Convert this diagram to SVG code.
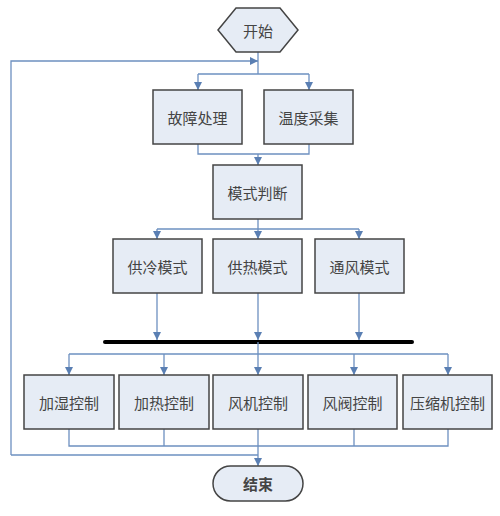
<svg xmlns="http://www.w3.org/2000/svg" width="500" height="516" viewBox="0 0 500 516">
<defs>
<marker id="a" viewBox="0 0 10 10" refX="10" refY="5" markerWidth="8" markerHeight="8" markerUnits="userSpaceOnUse" orient="auto"><path d="M0,0 L10,5 L0,10 z" fill="#5a7fb3"/></marker>
<style>
.n{fill:#e6ecf5;stroke:#444;stroke-width:1.5}
.t{font-family:"Noto Sans CJK SC",sans-serif;font-size:15px;fill:#444;text-anchor:middle;dominant-baseline:central}
.c{fill:none;stroke:#6d90c0;stroke-width:1.3}
</style>
</defs>
<rect width="500" height="516" fill="#fff"/>
<g id="connectors">
<path class="c" d="M258,52 V74"/>
<path class="c" d="M11,455 V61 H258" marker-end="url(#a)"/>
<path class="c" d="M198,74 H309"/>
<path class="c" d="M198,74 V90" marker-end="url(#a)"/>
<path class="c" d="M309,74 V90" marker-end="url(#a)"/>
<path class="c" d="M198,144 V154 H309 V144"/>
<path class="c" d="M258,154 V165" marker-end="url(#a)"/>
<path class="c" d="M258,219 V239" marker-end="url(#a)"/>
<path class="c" d="M157,229 H359"/>
<path class="c" d="M157,229 V239" marker-end="url(#a)"/>
<path class="c" d="M359,229 V239" marker-end="url(#a)"/>
<path class="c" d="M157,293 V340" marker-end="url(#a)"/>
<path class="c" d="M258,293 V340" marker-end="url(#a)"/>
<path class="c" d="M359,293 V340" marker-end="url(#a)"/>
<path d="M105,342 H412" stroke="#000" stroke-width="4" stroke-linecap="round"/>
<path class="c" d="M258,342 V375" marker-end="url(#a)"/>
<path class="c" d="M69,354 H448"/>
<path class="c" d="M69,354 V375" marker-end="url(#a)"/>
<path class="c" d="M164,354 V375" marker-end="url(#a)"/>
<path class="c" d="M354,354 V375" marker-end="url(#a)"/>
<path class="c" d="M448,354 V375" marker-end="url(#a)"/>
<path class="c" d="M69,429 V446 H448 V429"/>
<path class="c" d="M164,429 V446"/>
<path class="c" d="M354,429 V446"/>
<path class="c" d="M258,429 V466" marker-end="url(#a)"/>
<path class="c" d="M11,455 H258"/>
</g>
<g id="start"><polygon class="n" points="218,30 236,8 280,8 298,30 280,52 236,52"/><text class="t" x="258" y="30" font-size="16">开始</text></g>
<g id="fault"><rect class="n" x="153" y="90" width="89" height="54"/><text class="t" x="197.5" y="117">故障处理</text></g>
<g id="temp"><rect class="n" x="264" y="90" width="89" height="54"/><text class="t" x="308.5" y="117">温度采集</text></g>
<g id="mode"><rect class="n" x="213" y="165" width="89" height="54"/><text class="t" x="257.5" y="192">模式判断</text></g>
<g id="cool"><rect class="n" x="113" y="239" width="89" height="54"/><text class="t" x="157.5" y="266">供冷模式</text></g>
<g id="heat"><rect class="n" x="213" y="239" width="89" height="54"/><text class="t" x="257.5" y="266">供热模式</text></g>
<g id="vent"><rect class="n" x="315" y="239" width="89" height="54"/><text class="t" x="359.5" y="266">通风模式</text></g>
<g id="humid"><rect class="n" x="24" y="375" width="90" height="54"/><text class="t" x="69" y="402">加湿控制</text></g>
<g id="heatc"><rect class="n" x="119" y="375" width="90" height="54"/><text class="t" x="164" y="402">加热控制</text></g>
<g id="fan"><rect class="n" x="213" y="375" width="90" height="54"/><text class="t" x="258" y="402">风机控制</text></g>
<g id="valve"><rect class="n" x="308" y="375" width="89" height="54"/><text class="t" x="352.5" y="402">风阀控制</text></g>
<g id="comp"><rect class="n" x="403" y="375" width="89" height="54"/><text class="t" x="447.5" y="402">压缩机控制</text></g>
<g id="end"><rect class="n" x="213" y="466" width="90" height="35" rx="17.5"/><text class="t" x="258" y="483.5" font-size="17" font-weight="bold" fill="#222">结束</text></g>
</svg>
